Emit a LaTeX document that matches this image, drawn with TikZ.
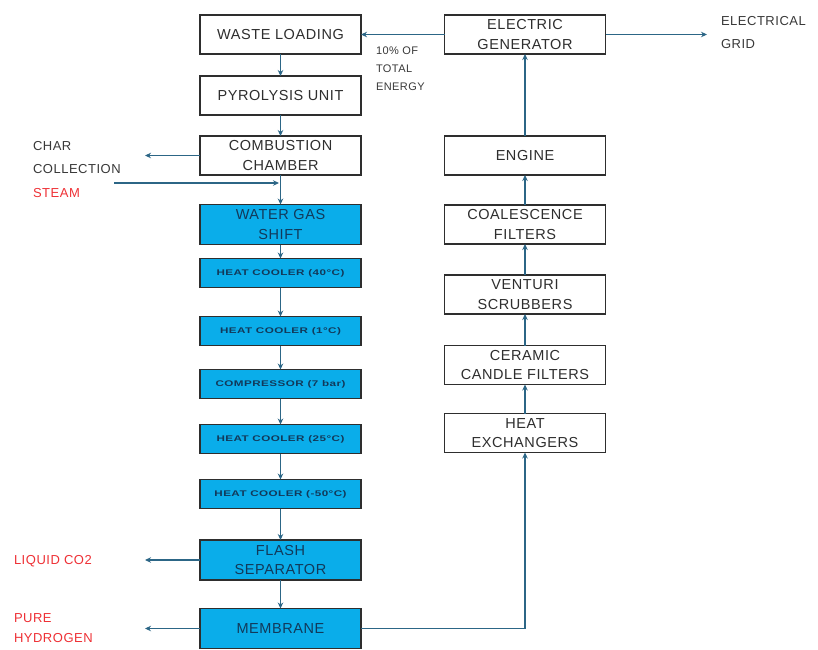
\documentclass[tikz,border=0pt]{standalone}
\usepackage{fontspec}
\usepackage{graphicx}
\setmainfont{Liberation Sans}[LetterSpace=4]
\usetikzlibrary{arrows.meta,positioning}
\definecolor{lineC}{HTML}{2C6686}
\definecolor{boxblue}{HTML}{0AADEA}
\definecolor{navyT}{HTML}{12395A}
\definecolor{redT}{HTML}{EE3035}
\definecolor{edgeC}{HTML}{2E2E2E}
\newcommand\widetxt[1]{\scalebox{1.42}[1]{#1}}
\begin{document}
\begin{tikzpicture}[x=1pt,y=-1pt,
  every node/.style={inner sep=0pt,outer sep=0pt},
  whitebox/.style={draw=edgeC,line width=1.5pt,fill=white,minimum width=161pt,minimum height=39pt,align=center,
     font=\fontsize{14.5}{19.5}\selectfont,text=black!82},
  bluebox/.style={draw=edgeC,line width=1.5pt,fill=boxblue,minimum width=161pt,minimum height=40pt,align=center,
     font=\fontsize{14.5}{19.5}\selectfont,text=navyT},
  smallbox/.style={draw=edgeC,line width=1.5pt,fill=boxblue,minimum width=161pt,minimum height=29pt,align=center,
     font=\fontsize{8.2}{9}\selectfont\bfseries,text=navyT},
  flow/.style={draw=lineC,line width=1.4pt,-{Stealth[length=6pt,width=5.5pt]}},
  lab/.style={align=left,anchor=west,font=\fontsize{13}{23}\selectfont,text=black!78},
  redlab/.style={align=left,anchor=west,font=\fontsize{13}{20}\selectfont,text=redT}]
\useasboundingbox (0,0) rectangle (818,649);
% left column
\node[whitebox] (wl) at (280.5,34.5) {WASTE LOADING};
\node[whitebox] (py) at (280.5,95.5) {PYROLYSIS UNIT};
\node[whitebox] (cc) at (280.5,155.5) {COMBUSTION\\CHAMBER};
\node[bluebox] (wgs) at (280.5,224.5) {WATER GAS\\SHIFT};
\node[smallbox] (hc40) at (280.5,273) {\widetxt{HEAT COOLER (40°C)}};
\node[smallbox] (hc1) at (280.5,331) {\widetxt{HEAT COOLER (1°C)}};
\node[smallbox] (comp) at (280.5,384) {\widetxt{COMPRESSOR (7 bar)}};
\node[smallbox] (hc25) at (280.5,439) {\widetxt{HEAT COOLER (25°C)}};
\node[smallbox] (hc50) at (280.5,494) {\widetxt{HEAT COOLER (-50°C)}};
\node[bluebox] (fs) at (280.5,560) {FLASH\\SEPARATOR};
\node[bluebox] (mem) at (280.5,628.5) {MEMBRANE};
% right column
\node[whitebox] (eg) at (525,34.5) {ELECTRIC\\GENERATOR};
\node[whitebox] (en) at (525,155.5) {ENGINE};
\node[whitebox] (cf) at (525,224.5) {COALESCENCE\\FILTERS};
\node[whitebox] (vs) at (525,294.5) {VENTURI\\SCRUBBERS};
\node[whitebox] (ccf) at (525,365) {CERAMIC\\CANDLE FILTERS};
\node[whitebox] (he) at (525,433) {HEAT\\EXCHANGERS};
% labels
\node[align=left,anchor=north west,font=\fontsize{11}{18}\selectfont,text=black!78] (ten) at (376,47) {10\% OF\\TOTAL\\ENERGY};
\node[lab,anchor=north west] (grid) at (721,16) {ELECTRICAL\\GRID};
\node[lab,anchor=north west] (char) at (33,141) {CHAR\\COLLECTION};
\node[redlab] (steam) at (33,193) {STEAM};
\node[redlab] (co2) at (14,561) {LIQUID CO2};
\node[redlab,anchor=north west] (h2) at (14,614) {PURE\\HYDROGEN};
% coordinates
\coordinate (gridpt) at (707,34.5);
\coordinate (charpt) at (145,155.5);
\coordinate (steamS) at (114,183);
\coordinate (steamE) at (279,183);
\coordinate (co2pt) at (145,560);
\coordinate (h2pt) at (145,628.5);
% connectors
\draw[flow] (wl) -- (py);
\draw[flow] (py) -- (cc);
\draw[flow] (cc) -- (wgs);
\draw[flow] (steamS) -- (steamE);
\draw[flow] (wgs) -- (hc40);
\draw[flow] (hc40) -- (hc1);
\draw[flow] (hc1) -- (comp);
\draw[flow] (comp) -- (hc25);
\draw[flow] (hc25) -- (hc50);
\draw[flow] (hc50) -- (fs);
\draw[flow] (fs) -- (mem);
\draw[flow] (cc.west) -- (charpt);
\draw[flow] (fs.west) -- (co2pt);
\draw[flow] (mem.west) -- (h2pt);
\draw[flow] (mem.east) -| (he.south);
\draw[flow] (he) -- (ccf);
\draw[flow] (ccf) -- (vs);
\draw[flow] (vs) -- (cf);
\draw[flow] (cf) -- (en);
\draw[flow] (en) -- (eg);
\draw[flow] (eg.west) -- (wl.east);
\draw[flow] (eg.east) -- (gridpt);
\end{tikzpicture}
\end{document}
